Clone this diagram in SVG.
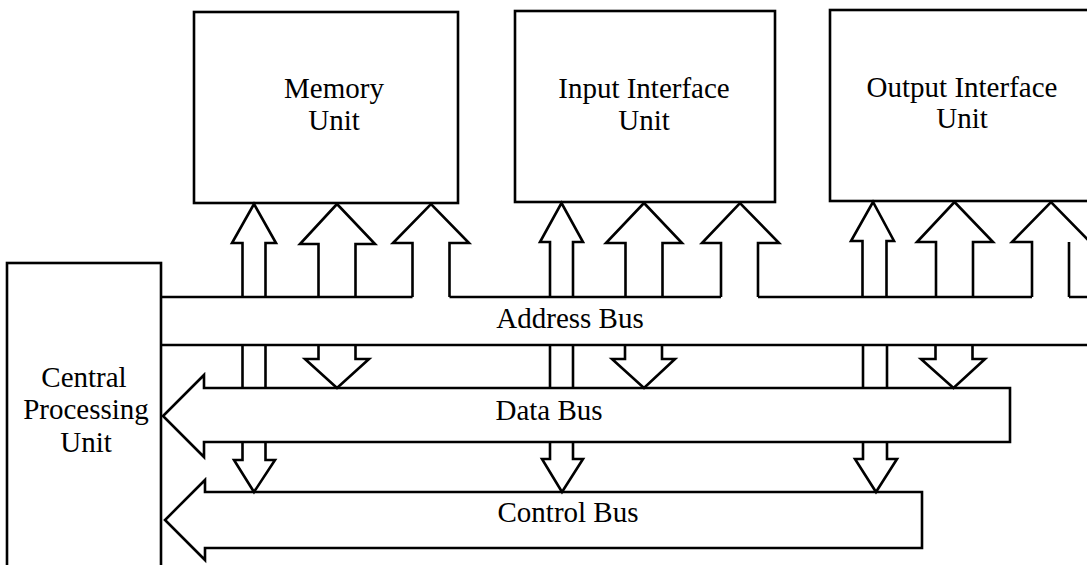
<svg xmlns="http://www.w3.org/2000/svg" width="1087" height="565" viewBox="0 0 1087 565">
  <style>
    .box { fill: #fff; stroke: #000; stroke-width: 2.6; }
    .ln { fill: none; stroke: #000; stroke-width: 2.6; stroke-linejoin: miter; }
    .bus { fill: #fff; stroke: #000; stroke-width: 2.6; stroke-linejoin: miter; }
    .lbl { font-family: "Liberation Serif", "Times New Roman", serif; font-size: 29px; fill: #000; text-anchor: middle; }
  </style>
  <rect width="1087" height="565" fill="#fff"/>

  <!-- units on top -->
  <g id="memory-unit">
    <rect class="box" x="194" y="12" width="264" height="191"/>
    <text class="lbl" x="334" y="98">Memory</text>
    <text class="lbl" x="334" y="130">Unit</text>
  </g>
  <g id="input-interface-unit">
    <rect class="box" x="515" y="11" width="260" height="191"/>
    <text class="lbl" x="644" y="98">Input Interface</text>
    <text class="lbl" x="644" y="130">Unit</text>
  </g>
  <g id="output-interface-unit">
    <rect class="box" x="830" y="10" width="270" height="191"/>
    <text class="lbl" x="962" y="97">Output Interface</text>
    <text class="lbl" x="962" y="128">Unit</text>
  </g>

  <!-- processor on the left -->
  <g id="cpu">
    <rect class="box" x="7" y="263" width="154" height="320"/>
    <text class="lbl" x="84" y="387">Central</text>
    <text class="lbl" x="86" y="419">Processing</text>
    <text class="lbl" x="86" y="452">Unit</text>
  </g>

  <g id="connectors">
    <!-- address bus -->
    <g id="address-bus">
      <path class="ln" d="M161,297 H412.5 M449.5,297 H721 M758,297 H1032 M1069,297 H1090"/>
      <path class="ln" d="M161,345 H1090"/>
      <text class="lbl" x="570" y="328">Address Bus</text>
    </g>

    <!-- data bus (arrow into the CPU) -->
    <g id="data-bus">
      <path class="bus" d="M1010,388 H204 V375 L163,416 L204,457 V442 H1010 Z"/>
      <text class="lbl" x="549" y="420">Data Bus</text>
    </g>

    <!-- control bus (arrow into the CPU) -->
    <g id="control-bus">
      <path class="bus" d="M922,492 H205 V480 L165,520 L205,560 V548 H922 Z"/>
      <text class="lbl" x="568" y="522">Control Bus</text>
    </g>

    <!-- memory unit links -->
    <path class="ln" d="M242.5,297 V243 H232 L254,204 L276,243 H265.5 V297"/>
    <path class="ln" d="M318.5,297 V244 H300 L337,204 L375,244 H355.5 V297"/>
    <path class="ln" d="M412.5,297 V243 H393 L431,204 L469,243 H449.5 V297"/>
    <path class="ln" d="M242.5,345 V388 M265.5,345 V388"/>
    <path class="ln" d="M318.5,345 V359 H305 L337,388 L369,359 H355.5 V345"/>
    <path class="ln" d="M242.5,442 V460 H234 L254,492 L275,460 H265.5 V442"/>

    <!-- input interface links -->
    <path class="ln" d="M550,297 V242 H540 L561.5,203 L583,242 H573 V297"/>
    <path class="ln" d="M625.5,297 V243 H606 L644,203 L682,243 H662.5 V297"/>
    <path class="ln" d="M721,297 V243 H702 L740,203 L779,243 H758 V297"/>
    <path class="ln" d="M550,345 V388 M573,345 V388"/>
    <path class="ln" d="M625,345 V359 H612 L644,388 L675,359 H662 V345"/>
    <path class="ln" d="M550,442 V459 H542 L562,492 L583,459 H573 V442"/>

    <!-- output interface links -->
    <path class="ln" d="M862.5,297 V241 H851 L873,202 L894,241 H886.5 V297"/>
    <path class="ln" d="M936,297 V242 H917 L954.5,202 L993,242 H973 V297"/>
    <path class="ln" d="M1032,297 V242 H1012 L1051,202 L1090,242 M1069,242 V297"/>
    <path class="ln" d="M863,345 V388 M887,345 V388"/>
    <path class="ln" d="M935.5,345 V359 H921 L953.5,388 L985,359 H972.5 V345"/>
    <path class="ln" d="M863,442 V459 H855 L876,492 L897,459 H887 V442"/>
  </g>
</svg>
